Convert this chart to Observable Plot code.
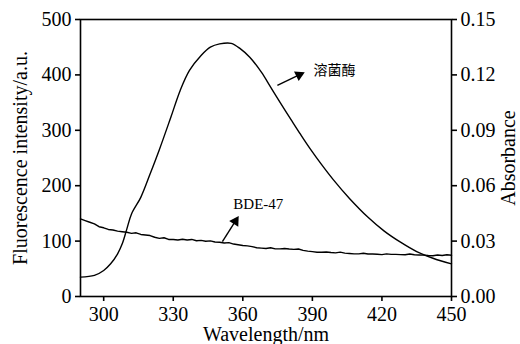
<!DOCTYPE html>
<html><head><meta charset="utf-8">
<script src="https://cdn.jsdelivr.net/npm/d3@7"></script>
<script src="https://cdn.jsdelivr.net/npm/@observablehq/plot@0.6"></script>
<style>body{margin:0;background:#fff}</style>
</head><body><div id="chart"></div>
<script>
// Lysozyme fluorescence (left axis, a.u.)
const lysoWavelength = [290,296,300,303,306,308,310,312,316,320,324,329,333,337,342,346,350,355,359,363,368,372,376,381,385,389,394,399,406,414,421,428,435,442,450];
const lysoFluorescence = [35,38,47,59,77,95,122,149,179,221,265,324,372,408,435,450,456,457,447,432,405,378,351,318,292,267,238,211,177,143,118,98,81,69,59];
// BDE-47 absorbance (right axis)
const bdeWavelength = [];
for (let w = 290; w <= 450; w += 2) bdeWavelength.push(w);
const bdeAbsorbance = [0.0420,0.0411,0.0402,0.0393,0.0378,0.0372,0.0363,0.0360,0.0354,0.0351,0.0348,0.0342,0.0345,0.0336,0.0333,0.0330,0.0321,0.0315,0.0318,0.0309,0.0309,0.0306,0.0310,0.0306,0.0309,0.0302,0.0304,0.0299,0.0301,0.0295,0.0294,0.0290,0.0292,0.0284,0.0280,0.0276,0.0274,0.0270,0.0264,0.0262,0.0260,0.0264,0.0258,0.0258,0.0260,0.0257,0.0255,0.0257,0.0250,0.0246,0.0243,0.0240,0.0240,0.0241,0.0238,0.0236,0.0240,0.0235,0.0233,0.0231,0.0231,0.0234,0.0230,0.0230,0.0229,0.0227,0.0231,0.0228,0.0228,0.0227,0.0226,0.0230,0.0226,0.0225,0.0224,0.0222,0.0221,0.0225,0.0222,0.0226,0.0223];

const xTicks = [300,330,360,390,420,450];
const yTicks = [0,100,200,300,400,500];
const absTicks = [0.00,0.03,0.06,0.09,0.12,0.15];
const ratio = 0.15 / 500;

// annotations: label text, label position, arrow tail/head (data units)
const labels = ["溶菌酶", "BDE-47"];
const labelX = [399.5, 366.7];
const labelY = [408, 166];
const arrowX1 = [374.9, 351.2];
const arrowY1 = [381, 99];
const arrowX2 = [384.3, 356.8];
const arrowY2 = [400, 136];

const W = 520, H = 344, mL = 80, mR = 69, mT = 19, mB = 48;
const xs = d3.scaleLinear([290,450],[mL, W - mR]);
const ys = d3.scaleLinear([0,500],[H - mB, mT]);

const lyso = lysoWavelength.map((w,i)=>({w, v: lysoFluorescence[i]}));
const bde = bdeWavelength.map((w,i)=>({w, a: bdeAbsorbance[i]}));
const ann = labels.map((t,i)=>({t, lx: labelX[i], ly: labelY[i], x1: arrowX1[i], y1: arrowY1[i], x2: arrowX2[i], y2: arrowY2[i],
  rot: Math.atan2(xs(arrowX2[i]) - xs(arrowX1[i]), -(ys(arrowY2[i]) - ys(arrowY1[i]))) * 180 / Math.PI}));

const plot = Plot.plot({
  width: W, height: H, marginLeft: mL, marginRight: mR, marginTop: mT, marginBottom: mB,
  style: {fontFamily: "'Liberation Serif', serif", fontSize: "20px", color: "black", background: "white", overflow: "visible"},
  x: {domain: [290,450]},
  y: {domain: [0,500]},
  marks: [
    Plot.line(lyso, {x: "w", y: "v", curve: "catmull-rom", stroke: "black", strokeWidth: 1.4}),
    Plot.line(bde, {x: "w", y: d => d.a / ratio, stroke: "black", strokeWidth: 1.4}),
    Plot.link(ann, {x1: "x1", y1: "y1", x2: "x2", y2: "y2", stroke: "black", strokeWidth: 1.4}),
    Plot.dot(ann, {x: "x2", y: "y2", symbol: "triangle", r: 4, fill: "black", stroke: null, rotate: "rot"}),
    Plot.text(ann.slice(0,1), {x: "lx", y: "ly", text: "t", fontFamily: "Noto Sans CJK SC", fontSize: 14}),
    Plot.text(ann.slice(1), {x: "lx", y: "ly", text: "t", fontFamily: "'Liberation Serif', serif", fontSize: 15}),
    Plot.frame({stroke: "black", strokeWidth: 1.6}),
    Plot.axisX({ticks: xTicks, tickSize: 5, tickPadding: 5, label: null, stroke: "black", strokeWidth: 1.6, fontSize: 20}),
    Plot.axisY({ticks: yTicks, tickSize: 5, tickPadding: 4, label: null, stroke: "black", strokeWidth: 1.6, fontSize: 20}),
    Plot.axisY({anchor: "right", ticks: absTicks.map(a => a / ratio), tickFormat: d => (d * ratio).toFixed(2), tickSize: 5, tickPadding: 4, label: null, stroke: "black", strokeWidth: 1.6, fontSize: 20}),
    Plot.text(["Fluorescence intensity/a.u."], {frameAnchor: "left", dx: -60, rotate: -90, textAnchor: "middle", lineAnchor: "middle", text: d => d, fontSize: 20}),
    Plot.text(["Absorbance"], {frameAnchor: "right", dx: 57, rotate: -90, textAnchor: "middle", lineAnchor: "middle", text: d => d, fontSize: 20}),
    Plot.text(["Wavelength/nm"], {frameAnchor: "bottom", dy: 38, textAnchor: "middle", lineAnchor: "middle", text: d => d, fontSize: 20})
  ]
});
document.getElementById("chart").append(plot);
</script></body></html>
